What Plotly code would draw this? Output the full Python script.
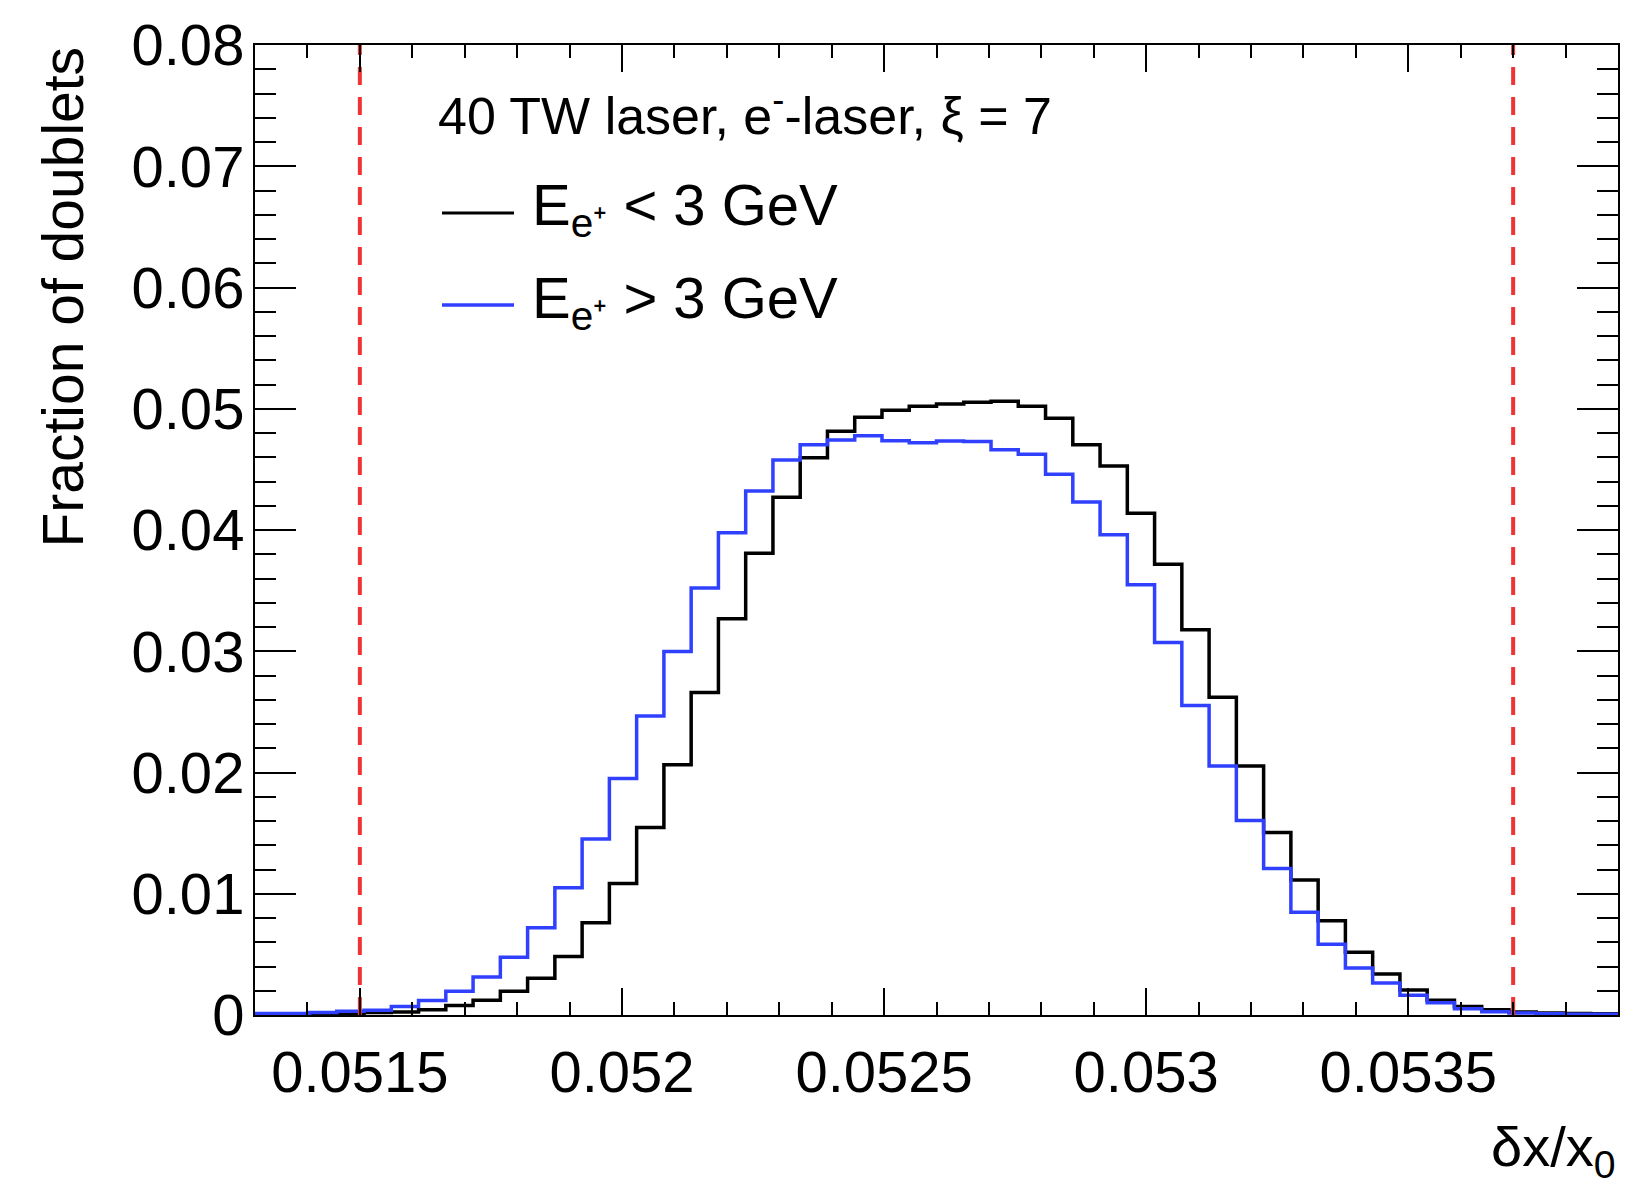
import numpy as np
import plotly.graph_objects as go

# ---- data ----
x_min, x_max, n_bins = 0.0513, 0.0539, 50
bin_edges = np.linspace(x_min, x_max, n_bins + 1)

frac_low = [0.0001, 0.0001, 0.0001, 0.00015, 0.0002, 0.00024, 0.00044, 0.00078, 0.00122, 0.00196,
            0.00304, 0.00483, 0.0076, 0.01084, 0.01546, 0.02063, 0.0266, 0.03268, 0.03808, 0.04271,
            0.04595, 0.04814, 0.04929, 0.04987, 0.0502, 0.0504, 0.05054, 0.05061, 0.0502, 0.04922,
            0.04703, 0.04527, 0.04139, 0.03717, 0.03177, 0.0262, 0.02053, 0.01506, 0.01114, 0.00777,
            0.00517, 0.00338, 0.00206, 0.00122, 0.00071, 0.00044, 0.00024, 0.00017, 0.00013, 0.0001]

frac_high = [0.00013, 0.00013, 0.0002, 0.0003, 0.0004, 0.0007, 0.0012, 0.00196, 0.00314, 0.00476,
             0.0072, 0.0105, 0.01452, 0.01951, 0.02465, 0.02998, 0.03521, 0.03977, 0.04321, 0.04578,
             0.04703, 0.04743, 0.04777, 0.04737, 0.0472, 0.04733, 0.0473, 0.04662, 0.04625, 0.0446,
             0.0423, 0.0396, 0.03548, 0.03072, 0.02552, 0.02053, 0.01604, 0.01209, 0.00847, 0.00584,
             0.00388, 0.00263, 0.00162, 0.00101, 0.00051, 0.00027, 0.00017, 0.0001, 0.00007, 0.00007]

cut_lines = [0.0515, 0.0537]
y_max = 0.08

header_text = "40 TW laser, e<sup>-</sup>-laser, ξ = 7"
label_low = "E<sub>e⁺</sub> < 3 GeV"
label_high = "E<sub>e⁺</sub> > 3 GeV"

FONT = "Liberation Sans, Arial, Helvetica, sans-serif"
BLUE = "#3040ff"
RED = "#ee3535"

fig = go.Figure()

def step_trace(vals, color):
    xs = list(bin_edges)
    ys = list(vals) + [vals[-1]]
    return go.Scatter(x=xs, y=ys, mode="lines", line=dict(color=color, width=3.5, shape="hv"),
                      showlegend=False, hoverinfo="skip")

fig.add_trace(step_trace(frac_low, "black"))
fig.add_trace(step_trace(frac_high, BLUE))

for xc in cut_lines:
    fig.add_trace(go.Scatter(x=[xc, xc], y=[0, y_max], mode="lines",
                             line=dict(color=RED, width=4, dash="18px,12px"),
                             showlegend=False, hoverinfo="skip"))

W, H = 1639, 1189
L, R, T, B = 255, 1618, 34, 1015
pw, ph = R - L, B - T

def px(xp):
    return (xp - L) / pw

def py(yp):
    return (B - yp) / ph

fig.update_layout(
    width=W, height=H,
    margin=dict(l=L, r=W - R, t=T, b=H - B, pad=0),
    paper_bgcolor="white", plot_bgcolor="white",
    font=dict(family=FONT, color="black", size=56),
    showlegend=False,
)

fig.update_xaxes(
    range=[x_min, x_max], tickmode="linear", tick0=0.0515, dtick=0.0005,
    ticks="inside", ticklen=27, tickwidth=2, tickcolor="black",
    minor=dict(tickmode="linear", tick0=0.0515, dtick=0.0001, ticks="inside", ticklen=13,
               tickwidth=2, tickcolor="black", showgrid=False),
    showline=True, linewidth=2, linecolor="black", mirror="ticks",
    showgrid=False, zeroline=False,
    tickfont=dict(size=58, family=FONT), ticklabelstandoff=5,
)
fig.update_yaxes(
    range=[0, y_max], tickmode="linear", tick0=0, dtick=0.01,
    ticks="inside", ticklen=41, tickwidth=2, tickcolor="black",
    minor=dict(tickmode="linear", tick0=0, dtick=0.002, ticks="inside", ticklen=21,
               tickwidth=2, tickcolor="black", showgrid=False),
    showline=True, linewidth=2, linecolor="black", mirror="ticks",
    showgrid=False, zeroline=False,
    tickfont=dict(size=58, family=FONT), ticklabelstandoff=-3,
)

annotations = [
    dict(text="Fraction of doublets", textangle=-90, xref="paper", yref="paper",
         x=px(62), y=1.0, xanchor="center", yanchor="top", showarrow=False,
         font=dict(size=57, family=FONT)),
    dict(text="δx/x<sub>0</sub>", xref="paper", yref="paper",
         x=1.0, y=py(1152), xanchor="right", yanchor="middle", showarrow=False,
         font=dict(size=56, family=FONT)),
    dict(text=header_text, xref="paper", yref="paper",
         x=px(436), y=py(102), xanchor="left", yanchor="middle", showarrow=False,
         font=dict(size=52, family=FONT)),
    dict(text=label_low, xref="paper", yref="paper",
         x=px(530), y=py(200), xanchor="left", yanchor="middle", showarrow=False,
         font=dict(size=58, family=FONT)),
    dict(text=label_high, xref="paper", yref="paper",
         x=px(530), y=py(294), xanchor="left", yanchor="middle", showarrow=False,
         font=dict(size=58, family=FONT)),
]
fig.update_layout(annotations=annotations)

fig.add_shape(type="line", xref="paper", yref="paper", x0=px(442), x1=px(514),
              y0=py(204), y1=py(204), line=dict(color="black", width=3))
fig.add_shape(type="line", xref="paper", yref="paper", x0=px(442), x1=px(514),
              y0=py(297), y1=py(297), line=dict(color=BLUE, width=3.5))

fig.write_html("out.html")
